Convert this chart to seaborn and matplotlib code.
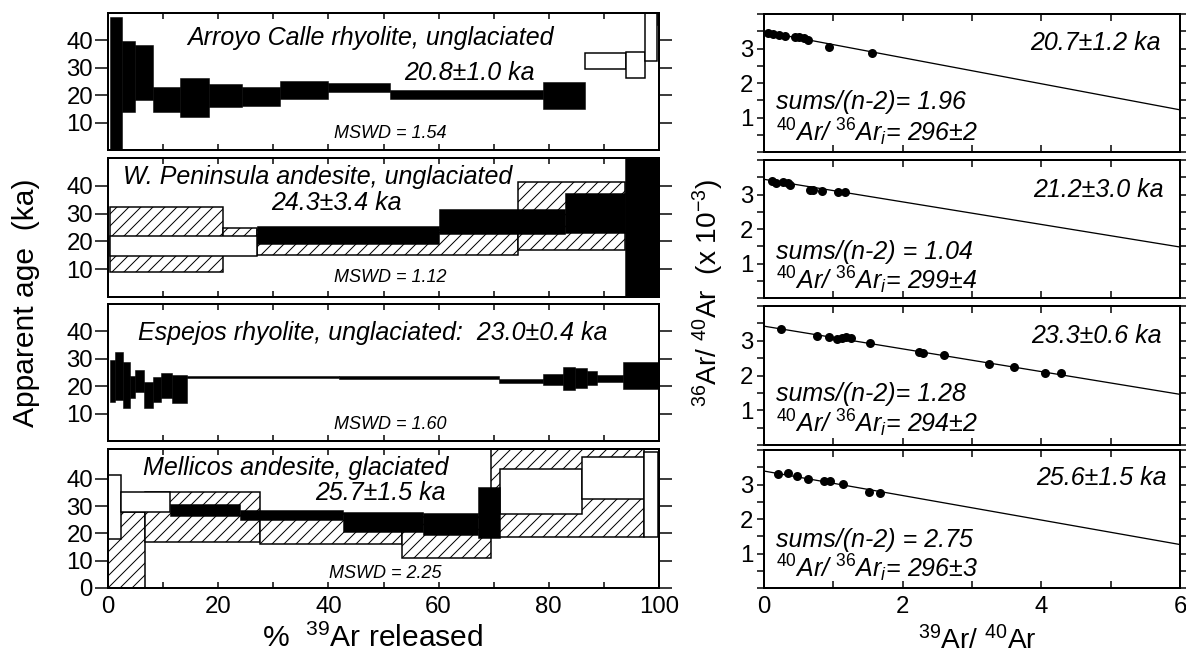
import numpy as np
import matplotlib
matplotlib.use("Agg")
import matplotlib.pyplot as plt
from matplotlib.ticker import MultipleLocator, NullFormatter
import seaborn as sns


# DATA

# age spectra: step edges (% 39Ar released), apparent age and half width (ka)
# fill: 'k' plateau step, 'w' step outside plateau, 'h' second (hatched) run
arroyo_edges = [0.4, 2.5, 4.9, 8.2, 13.1, 18.4, 24.3, 31.2, 40.0, 51.2, 79.0, 86.5, 94.1, 97.5, 99.6, 100.0]
arroyo_age = [24.0, 26.8, 28.2, 18.5, 19.3, 19.8, 19.5, 21.9, 22.8, 20.2, 20.0, 32.6, 31.0, 41.2, 50.0]
arroyo_err = [24.5, 12.8, 10.0, 4.5, 7.1, 4.2, 3.4, 3.3, 1.6, 1.7, 5.0, 2.9, 4.9, 8.7, 4.5]
arroyo_fill = ["k"] * 11 + ["w", "w", "w", "k"]

peninsula_edges = [0.4, 27.0, 60.0, 82.9, 93.8, 100.0]
peninsula_age = [18.2, 22.2, 27.2, 30.2, 27.0]
peninsula_err = [3.6, 3.3, 4.5, 7.2, 30.0]
peninsula_fill = ["w", "k", "k", "k", "k"]

peninsula2_edges = [0.4, 20.9, 27.0, 74.5, 93.8]
peninsula2_age = [20.7, 20.0, 19.5, 29.2]
peninsula2_err = [11.7, 4.9, 4.5, 12.2]
peninsula2_fill = ["h"] * 4

espejos_edges = [0.4, 1.3, 2.8, 4.0, 4.9, 6.5, 8.1, 9.7, 11.6, 14.4, 42.0, 71.0,
                 79.0, 82.6, 84.7, 86.9, 88.7, 93.5, 100.0]
espejos_age = [22.0, 23.8, 20.4, 19.6, 21.9, 16.7, 18.9, 20.2, 19.0, 23.4, 23.3,
               21.9, 22.5, 22.9, 22.9, 23.1, 22.9, 23.8]
espejos_err = [7.7, 8.8, 8.5, 4.0, 3.9, 4.8, 4.6, 4.6, 5.2, 0.5, 0.5,
               0.75, 2.0, 4.2, 3.6, 2.6, 1.25, 4.9]
espejos_fill = ["k"] * 18

mellicos_edges = [0.0, 2.4, 11.2, 24.0, 42.7, 57.1, 67.2, 71.2, 86.0, 97.2, 99.9]
mellicos_age = [29.7, 31.6, 28.6, 26.85, 24.3, 23.4, 27.75, 35.3, 40.2, 34.4]
mellicos_err = [11.9, 3.7, 2.2, 1.95, 3.7, 4.0, 9.25, 8.2, 7.7, 15.6]
mellicos_fill = ["w", "w", "k", "k", "k", "k", "k", "w", "w", "w"]

mellicos2_edges = [0.0, 6.8, 27.5, 53.3, 69.6, 97.2]
mellicos2_age = [13.5, 26.0, 21.7, 18.5, 36.9]
mellicos2_err = [14.5, 9.3, 5.4, 7.6, 18.1]
mellicos2_fill = ["h"] * 5

spectrum_titles = ["Arroyo Calle rhyolite, unglaciated",
                   "W. Peninsula andesite, unglaciated",
                   "Espejos rhyolite, unglaciated:  23.0\u00b10.4 ka",
                   "Mellicos andesite, glaciated"]
spectrum_ages = ["20.8\u00b11.0 ka", "24.3\u00b13.4 ka", None, "25.7\u00b11.5 ka"]
mswd = [1.54, 1.12, 1.60, 2.25]

# isochrons: 39Ar/40Ar vs 36Ar/40Ar (x 10^-3)
arroyo_iso_x = [0.06, 0.13, 0.21, 0.30, 0.44, 0.51, 0.58, 0.64, 0.94, 1.56]
arroyo_iso_y = [3.44, 3.41, 3.38, 3.36, 3.33, 3.33, 3.30, 3.24, 3.05, 2.88]
peninsula_iso_x = [0.11, 0.18, 0.28, 0.34, 0.38, 0.67, 0.71, 0.84, 1.07, 1.17]
peninsula_iso_y = [3.39, 3.34, 3.36, 3.32, 3.27, 3.13, 3.13, 3.10, 3.07, 3.07]
espejos_iso_x = [0.25, 0.77, 0.94, 1.05, 1.12, 1.18, 1.26, 1.53, 2.23, 2.30, 2.59, 3.24, 3.60, 4.06, 4.28]
espejos_iso_y = [3.33, 3.14, 3.11, 3.04, 3.07, 3.11, 3.07, 2.94, 2.68, 2.66, 2.59, 2.32, 2.25, 2.06, 2.06]
mellicos_iso_x = [0.20, 0.35, 0.47, 0.63, 0.86, 0.95, 1.14, 1.52, 1.67]
mellicos_iso_y = [3.31, 3.34, 3.26, 3.17, 3.09, 3.09, 3.02, 2.79, 2.75]

iso_intercept = [3.49, 3.44, 3.42, 3.39]
iso_slope = [-0.378, -0.327, -0.327, -0.355]
iso_xrange = [0.0, 6.0]
iso_ages = ["20.7\u00b11.2 ka", "21.2\u00b13.0 ka", "23.3\u00b10.6 ka", "25.6\u00b11.5 ka"]
iso_sums = ["sums/(n-2)= 1.96", "sums/(n-2) = 1.04", "sums/(n-2)= 1.28", "sums/(n-2) = 2.75"]
iso_trapped = ["296\u00b12", "299\u00b14", "294\u00b12", "296\u00b13"]


# STYLE

sns.set_theme(style="ticks")
plt.rcParams["font.family"] = ["Liberation Sans", "DejaVu Sans"]
plt.rcParams["mathtext.fontset"] = "custom"
plt.rcParams["mathtext.rm"] = "Liberation Sans"
plt.rcParams["mathtext.it"] = "Liberation Sans:italic"
plt.rcParams["mathtext.bf"] = "Liberation Sans:bold"
plt.rcParams["hatch.linewidth"] = 1.0
plt.rcParams["axes.linewidth"] = 2.0
plt.rcParams["axes.edgecolor"] = "black"
plt.rcParams["text.color"] = "black"
plt.rcParams["axes.labelcolor"] = "black"
plt.rcParams["xtick.labelsize"] = 24
plt.rcParams["ytick.labelsize"] = 24
plt.rcParams["xtick.color"] = "black"
plt.rcParams["ytick.color"] = "black"

W, H = 1186, 658
fig = plt.figure(figsize=(W / 72, H / 72), dpi=72)


def rect(x0, x1, top, bottom):
    return [x0 / W, 1 - bottom / H, (x1 - x0) / W, (bottom - top) / H]


def draw_spectrum(ax, edges, age, err, fill):
    edges = np.asarray(edges, dtype=float)
    age = np.asarray(age, dtype=float)
    err = np.asarray(err, dtype=float)
    fill = np.asarray(fill)
    left = edges[:-1]
    width = np.diff(edges)
    styles = {
        "h": dict(color="white", edgecolor="black", hatch="//", linewidth=1.5, zorder=1),
        "w": dict(color="white", edgecolor="black", linewidth=1.5, zorder=2),
        "k": dict(color="black", edgecolor="black", linewidth=0.5, zorder=3),
    }
    for key, kw in styles.items():
        m = fill == key
        if m.any():
            ax.bar(left[m], 2 * err[m], width[m], bottom=age[m] - err[m],
                   align="edge", **kw)


# LEFT: AGE SPECTRA

left_rows = [(13, 150), (158, 297), (304, 441), (449, 588)]
spectra = [
    [(arroyo_edges, arroyo_age, arroyo_err, arroyo_fill)],
    [(peninsula2_edges, peninsula2_age, peninsula2_err, peninsula2_fill),
     (peninsula_edges, peninsula_age, peninsula_err, peninsula_fill)],
    [(espejos_edges, espejos_age, espejos_err, espejos_fill)],
    [(mellicos2_edges, mellicos2_age, mellicos2_err, mellicos2_fill),
     (mellicos_edges, mellicos_age, mellicos_err, mellicos_fill)],
]
title_pos = [(0.477, 0.818), (0.381, 0.863), (0.48, 0.79), (0.34, 0.864)]
age_pos = [(0.655, 0.56), (0.414, 0.676), None, (0.494, 0.68)]
mswd_pos = [(0.513, 0.124), (0.512, 0.137), (0.512, 0.117), (0.503, 0.107)]

for i, (top, bottom) in enumerate(left_rows):
    ax = fig.add_axes(rect(108, 659, top, bottom))
    for spec in spectra[i]:
        draw_spectrum(ax, *spec)
    ax.set_xlim(0, 100)
    ax.set_ylim(0, 51 if i == 3 else 50)
    ax.xaxis.set_major_locator(MultipleLocator(20))
    ax.xaxis.set_minor_locator(MultipleLocator(10))
    ax.set_yticks([0, 10, 20, 30, 40] if i == 3 else [10, 20, 30, 40])
    ax.tick_params(axis="x", which="both", direction="in", top=True, bottom=True,
                   length=6, width=1.5, pad=8)
    ax.tick_params(axis="y", direction="out", left=True, right=True,
                   length=13, width=1.5, pad=2)
    if i < 3:
        ax.xaxis.set_major_formatter(NullFormatter())
    for s in ax.spines.values():
        s.set_visible(True)
        s.set_zorder(5)

    ax.text(*title_pos[i], spectrum_titles[i], transform=ax.transAxes,
            ha="center", va="center", fontsize=25, style="italic", zorder=6,
            bbox=dict(facecolor="white", edgecolor="none", pad=0))
    if age_pos[i] is not None:
        ax.text(*age_pos[i], spectrum_ages[i], transform=ax.transAxes,
                ha="center", va="center", fontsize=25, style="italic", zorder=6)
    ax.text(*mswd_pos[i], f"MSWD = {mswd[i]:.2f}", transform=ax.transAxes,
            ha="center", va="center", fontsize=18, style="italic", zorder=6)


# RIGHT: ISOCHRONS

right_rows = [(14, 152), (160, 298), (306, 445), (450, 588)]
iso_points = [(arroyo_iso_x, arroyo_iso_y), (peninsula_iso_x, peninsula_iso_y),
              (espejos_iso_x, espejos_iso_y), (mellicos_iso_x, mellicos_iso_y)]
iso_age_pos = [(0.796, 0.79), (0.805, 0.78), (0.80, 0.786), (0.81, 0.80)]
iso_sums_y = [0.362, 0.33, 0.364, 0.35]
iso_trap_y = [0.145, 0.13, 0.157, 0.145]

for i, (top, bottom) in enumerate(right_rows):
    ax = fig.add_axes(rect(764, 1180, top, bottom))
    xs = np.array(iso_xrange)
    ys = iso_intercept[i] + iso_slope[i] * xs
    sns.lineplot(x=xs, y=ys, ax=ax, color="black", linewidth=1.3)
    px, py = iso_points[i]
    sns.scatterplot(x=px, y=py, ax=ax, color="black", s=81, linewidth=0,
                    zorder=3, legend=False)
    ax.set_xlim(0, 6)
    ax.set_ylim(0, 4)
    ax.xaxis.set_major_locator(MultipleLocator(2))
    ax.xaxis.set_minor_locator(MultipleLocator(1))
    ax.set_yticks([1, 2, 3])
    ax.yaxis.set_minor_locator(MultipleLocator(0.5))
    ax.tick_params(axis="x", which="both", direction="in", top=True, bottom=True,
                   length=7, width=1.5, pad=8)
    ax.tick_params(axis="y", which="both", direction="out", left=True, right=True,
                   length=7, width=1.5, pad=4)
    if i < 3:
        ax.xaxis.set_major_formatter(NullFormatter())
    ax.set_xlabel("")
    ax.set_ylabel("")

    ax.text(*iso_age_pos[i], iso_ages[i], transform=ax.transAxes,
            ha="center", va="center", fontsize=25, style="italic")
    ax.text(0.03, iso_sums_y[i], iso_sums[i], transform=ax.transAxes,
            ha="left", va="center", fontsize=25, style="italic")
    ax.text(0.03, iso_trap_y[i], r"$^{40}$Ar/ $^{36}$Ar$_{i}$= " + iso_trapped[i],
            transform=ax.transAxes, ha="left", va="center", fontsize=25,
            style="italic")


# AXIS LABELS

fig.text(0.022, 0.54, "Apparent age  (ka)", rotation=90, ha="center",
         va="center", fontsize=30)
fig.text(0.314, 0.03, r"%  $^{\mathrm{39}}$Ar released", ha="center",
         va="center", fontsize=30)
fig.text(0.597, 0.555, r"$^{\mathrm{36}}$Ar/ $^{\mathrm{40}}$Ar  (x 10$^{\mathrm{-3}}$)",
         rotation=90, ha="center", va="center", fontsize=28)
fig.text(0.824, 0.027, r"$^{\mathrm{39}}$Ar/ $^{\mathrm{40}}$Ar", ha="center",
         va="center", fontsize=28)

fig.savefig("out.png", dpi=72)
